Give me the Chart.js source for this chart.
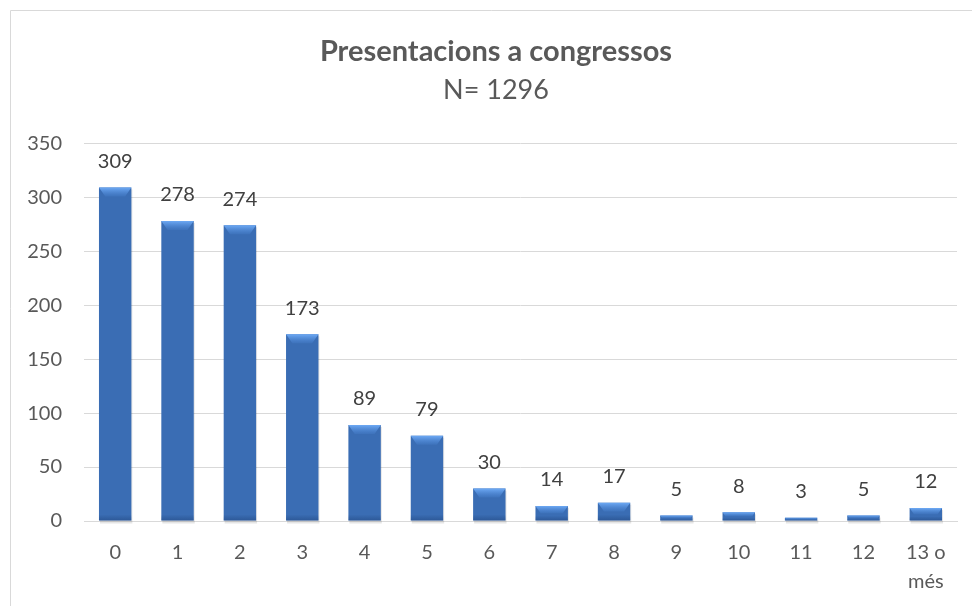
<!DOCTYPE html>
<html>
<head>
<meta charset="utf-8">
<script src="https://cdn.jsdelivr.net/npm/chart.js@4/dist/chart.umd.min.js"></script>
<style>
  html, body { margin:0; padding:0; background:#fff; }
  #wrap { width:972px; height:606px; position:relative; }
</style>
</head>
<body>
<div id="wrap"><canvas id="c" width="972" height="606"></canvas></div>
<script>
// chart data
const categories = ['0','1','2','3','4','5','6','7','8','9','10','11','12',['13 o','més']];
const counts     = [309, 278, 274, 173, 89, 79, 30, 14, 17, 5, 8, 3, 5, 12];
const yTicks     = [0, 50, 100, 150, 200, 250, 300, 350];
const titleText  = 'Presentacions a congressos';
const subText    = 'N= 1296';

const FONT = 'Lato, "Open Sans", sans-serif';

// outer frame (only top + left edges are inside the picture)
const framePlugin = {
  id: 'frame',
  beforeDraw(chart) {
    const c = chart.ctx;
    c.save();
    c.strokeStyle = '#d9d9d9';
    c.lineWidth = 1;
    c.beginPath();
    c.moveTo(10.5, 606);
    c.lineTo(10.5, 10.5);
    c.lineTo(972, 10.5);
    c.stroke();
    c.restore();
  }
};

// the original frame is wider than the picture, so the titles sit a bit right of centre
const titleShift = {
  id: 'titleShift',
  afterLayout(chart) {
    chart.boxes.forEach(b => {
      if (b.options && typeof b.options.text === 'string') b.left += 35;
    });
  }
};

// bevel / shading on each bar + value labels
const barDeco = {
  id: 'barDeco',
  beforeDatasetsDraw(chart) {
    // soft shadow under each bar
    const c = chart.ctx;
    c.save();
    chart.getDatasetMeta(0).data.forEach(bar => {
      const x0 = bar.x - bar.width/2;
      c.fillStyle = 'rgba(0,0,0,0.10)';
      c.fillRect(x0 + 1, bar.y + 2, bar.width, bar.base - bar.y + 1);
    });
    c.restore();
  },
  afterDatasetsDraw(chart) {
    const c = chart.ctx;
    const meta = chart.getDatasetMeta(0);
    c.save();
    meta.data.forEach((bar, i) => {
      const w = bar.width, x0 = bar.x - w/2, x1 = bar.x + w/2, top = bar.y, bot = bar.base;
      const hgt = bot - top;
      const h = Math.min(9, hgt / 2);
      if (h > 0.5) {
        const g = c.createLinearGradient(0, top, 0, top + h);
        g.addColorStop(0, 'rgba(110,170,245,1)');
        g.addColorStop(1, 'rgba(80,140,220,0.2)');
        c.fillStyle = g;
        c.beginPath();
        c.moveTo(x0, top);
        c.lineTo(x1, top);
        c.lineTo(x1 - h*0.7, top + h);
        c.lineTo(x0 + h*0.7, top + h);
        c.closePath();
        c.fill();
        // darker band at bottom
        const bh = Math.min(6, hgt / 3);
        const gb = c.createLinearGradient(0, bot - bh, 0, bot);
        gb.addColorStop(0, 'rgba(20,50,100,0)');
        gb.addColorStop(1, 'rgba(20,50,100,0.35)');
        c.fillStyle = gb;
        c.fillRect(x0, bot - bh, w, bh);
      }
      c.fillStyle = '#404040';
      c.font = '20px ' + FONT;
      c.textAlign = 'center';
      c.textBaseline = 'middle';
      c.fillText(String(counts[i]), bar.x, top - 26);
    });
    c.restore();
  }
};

function barFill(ctx) {
  const chart = ctx.chart;
  const el = chart.getDatasetMeta(0).data[ctx.dataIndex];
  if (!el || !isFinite(el.x) || !el.width) return '#3a6db4';
  const g = chart.ctx.createLinearGradient(el.x - el.width/2, 0, el.x + el.width/2, 0);
  g.addColorStop(0, '#21488a');
  g.addColorStop(0.15, '#3566b0');
  g.addColorStop(0.5, '#3d73c0');
  g.addColorStop(0.85, '#3566b0');
  g.addColorStop(1, '#21488a');
  return g;
}

new Chart(document.getElementById('c'), {
  type: 'bar',
  data: {
    labels: categories,
    datasets: [{
      data: counts,
      backgroundColor: barFill,
      borderWidth: 0,
      categoryPercentage: 1.0,
      barPercentage: 0.52
    }]
  },
  options: {
    responsive: false,
    animation: false,
    events: [],
    layout: { padding: { left: 0, right: 15, top: 0, bottom: 0 } },
    plugins: {
      legend: { display: false },
      tooltip: { enabled: false },
      title: {
        display: true,
        text: titleText,
        color: '#595959',
        font: { family: FONT, size: 29, weight: 'bold', lineHeight: 1.2 },
        padding: { top: 34, bottom: 0 }
      },
      subtitle: {
        display: true,
        text: subText,
        color: '#595959',
        font: { family: FONT, size: 27, weight: 'normal', lineHeight: 1.2 },
        padding: { top: 5, bottom: 37 }
      }
    },
    scales: {
      x: {
        grid: { display: false, drawTicks: false },
        border: { display: true, color: '#d9d9d9', width: 1 },
        ticks: { color: '#595959', font: { family: FONT, size: 20, lineHeight: 1.45 }, padding: 17, maxRotation: 0, autoSkip: false },
        afterFit(scale) { scale.height = 85; }
      },
      y: {
        min: 0, max: 350,
        afterBuildTicks(scale) { scale.ticks = yTicks.map(v => ({ value: v })); },
        grid: { color: '#d9d9d9', drawTicks: false },
        border: { display: false },
        ticks: { color: '#595959', font: { family: FONT, size: 20 }, padding: 22 },
        afterFit(scale) { scale.width = 84; }
      }
    }
  },
  plugins: [framePlugin, titleShift, barDeco]
});
</script>
</body>
</html>
